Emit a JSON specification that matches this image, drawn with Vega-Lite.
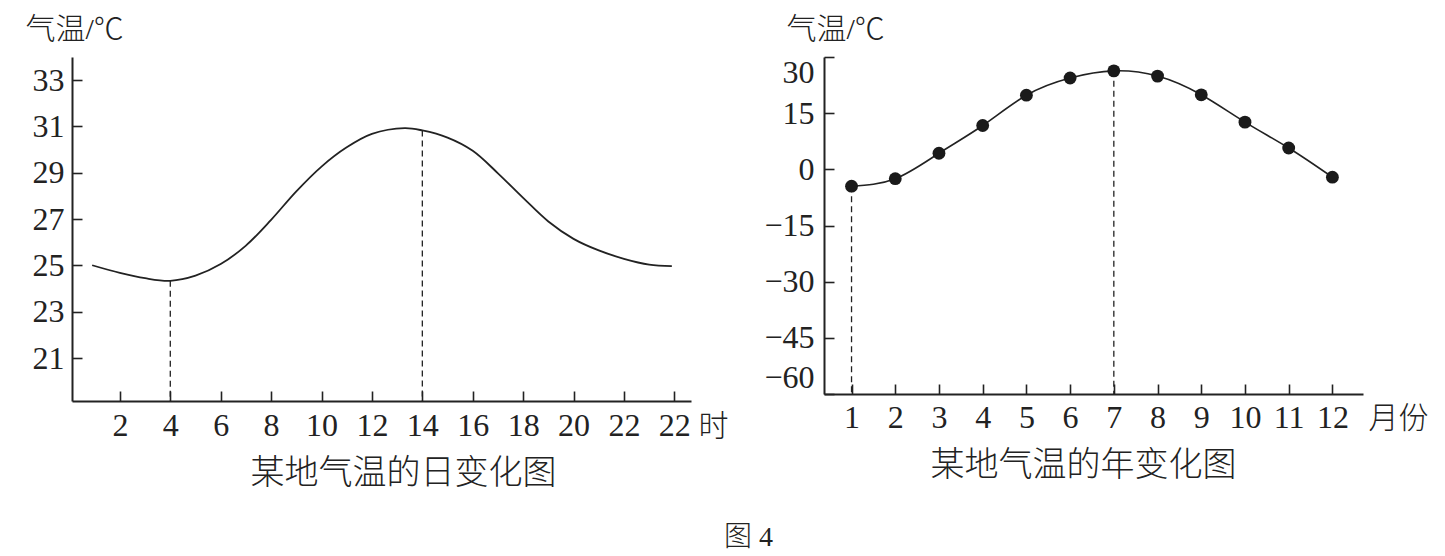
{
  "$schema": "https://vega.github.io/schema/vega-lite/v6.json",
  "padding": {"left": 25, "top": 14, "right": 5, "bottom": 5},
  "background": "white",
  "bounds": "flush",
  "spacing": 133,
  "title": {
    "text": "图 4",
    "orient": "bottom",
    "anchor": "middle",
    "dx": 22,
    "offset": 33,
    "fontSize": 28
  },
  "hconcat": [
    {
      "width": 619,
      "height": 344,
      "title": {"text": "某地气温的日变化图", "orient": "bottom", "dx": 22, "offset": 15, "fontSize": 34},
      "data": {
        "values": [
          {"hour": 0.9, "temp": 25.01},
          {"hour": 2, "temp": 24.68},
          {"hour": 3, "temp": 24.45},
          {"hour": 4, "temp": 24.34},
          {"hour": 5, "temp": 24.56},
          {"hour": 6, "temp": 25.06},
          {"hour": 7, "temp": 25.86},
          {"hour": 8, "temp": 26.97},
          {"hour": 9, "temp": 28.2},
          {"hour": 10, "temp": 29.27},
          {"hour": 11, "temp": 30.1},
          {"hour": 12, "temp": 30.68},
          {"hour": 13.3, "temp": 30.93},
          {"hour": 14, "temp": 30.83},
          {"hour": 15, "temp": 30.52},
          {"hour": 16, "temp": 29.95},
          {"hour": 17, "temp": 28.98},
          {"hour": 18, "temp": 27.92},
          {"hour": 19, "temp": 26.9},
          {"hour": 20, "temp": 26.15},
          {"hour": 21, "temp": 25.65},
          {"hour": 22, "temp": 25.29},
          {"hour": 23, "temp": 25.04},
          {"hour": 23.9, "temp": 24.97}
        ]
      },
      "layer": [
        {
          "mark": {"type": "line", "interpolate": "catmull-rom", "color": "#222", "strokeWidth": 1.8},
          "encoding": {
            "x": {
              "field": "hour",
              "type": "quantitative",
              "scale": {"domain": [0.1, 24.66], "nice": false, "zero": false},
              "axis": {
                "values": [2, 4, 6, 8, 10, 12, 14, 16, 18, 20, 22, 24],
                "labelExpr": "datum.value == 24 ? '22' : datum.label",
                "labelPadding": 19,
                "title": "时",
                "titleX": 626,
                "titleY": 34.5
              }
            },
            "y": {
              "field": "temp",
              "type": "quantitative",
              "scale": {"domain": [19.15, 34], "nice": false, "zero": false},
              "axis": {
                "values": [21, 23, 25, 27, 29, 31, 33],
                "labelPadding": 18,
                "title": "气温/℃",
                "titleX": -47,
                "titleY": -18.5
              }
            }
          }
        },
        {
          "data": {"values": [{"hour": 4, "temp": 24.34}, {"hour": 14, "temp": 30.83}]},
          "mark": {"type": "rule", "color": "#222", "strokeWidth": 1.3, "strokeDash": [6, 4]},
          "encoding": {
            "x": {"field": "hour", "type": "quantitative"},
            "y": {"field": "temp", "type": "quantitative"},
            "y2": {"datum": 19.15}
          }
        }
      ]
    },
    {
      "width": 539,
      "height": 337,
      "title": {"text": "某地气温的年变化图", "orient": "bottom", "dx": -10, "offset": 15, "fontSize": 34},
      "data": {
        "values": [
          {"month": 1, "temp": -4.5},
          {"month": 2, "temp": -2.5},
          {"month": 3, "temp": 4.3},
          {"month": 4, "temp": 11.7},
          {"month": 5, "temp": 19.8},
          {"month": 6, "temp": 24.4},
          {"month": 7, "temp": 26.3},
          {"month": 8, "temp": 24.9},
          {"month": 9, "temp": 19.9},
          {"month": 10, "temp": 12.6},
          {"month": 11, "temp": 5.7},
          {"month": 12, "temp": -2.1}
        ]
      },
      "layer": [
        {
          "mark": {"type": "line", "interpolate": "natural", "color": "#222", "strokeWidth": 1.6},
          "encoding": {
            "x": {
              "field": "month",
              "type": "quantitative",
              "scale": {"domain": [0.37, 12.7], "nice": false, "zero": false},
              "axis": {
                "values": [1, 2, 3, 4, 5, 6, 7, 8, 9, 10, 11, 12],
                "labelPadding": 18.5,
                "title": "月份",
                "titleX": 544,
                "titleY": 33.5
              }
            },
            "y": {
              "field": "temp",
              "type": "quantitative",
              "scale": {"domain": [-60, 30], "nice": false, "zero": false},
              "axis": {
                "values": [-60, -45, -30, -15, 0, 15, 30],
                "labelFlush": true,
                "labelPadding": 20,
                "title": "气温/℃",
                "titleX": -38,
                "titleY": -18.2
              }
            }
          }
        },
        {
          "data": {"values": [{"month": 1, "temp": -4.5}, {"month": 7, "temp": 26.3}]},
          "mark": {"type": "rule", "color": "#222", "strokeWidth": 1.3, "strokeDash": [6, 4]},
          "encoding": {
            "x": {"field": "month", "type": "quantitative"},
            "y": {"field": "temp", "type": "quantitative"},
            "y2": {"datum": -60}
          }
        },
        {
          "mark": {"type": "point", "filled": true, "color": "#1a1a1a", "size": 165, "opacity": 1},
          "encoding": {
            "x": {"field": "month", "type": "quantitative"},
            "y": {"field": "temp", "type": "quantitative"}
          }
        }
      ]
    }
  ],
  "config": {
    "font": "Liberation Serif, Noto Sans CJK SC",
    "view": {"stroke": null},
    "title": {"font": "Liberation Serif, Noto Sans CJK SC", "fontWeight": 300, "color": "#222"},
    "axis": {
      "grid": false,
      "domainColor": "#222",
      "domainWidth": 2,
      "tickColor": "#222",
      "tickWidth": 1.6,
      "tickSize": -10,
      "labelFont": "Liberation Serif, Noto Sans CJK SC",
      "labelFontSize": 32,
      "labelColor": "#222",
      "labelFlush": false,
      "labelOverlap": false,
      "titleFont": "Liberation Serif, Noto Sans CJK SC",
      "titleFontSize": 30,
      "titleFontWeight": 300,
      "titleColor": "#222",
      "titleAngle": 0,
      "titleAlign": "left",
      "titleBaseline": "alphabetic"
    }
  }
}
